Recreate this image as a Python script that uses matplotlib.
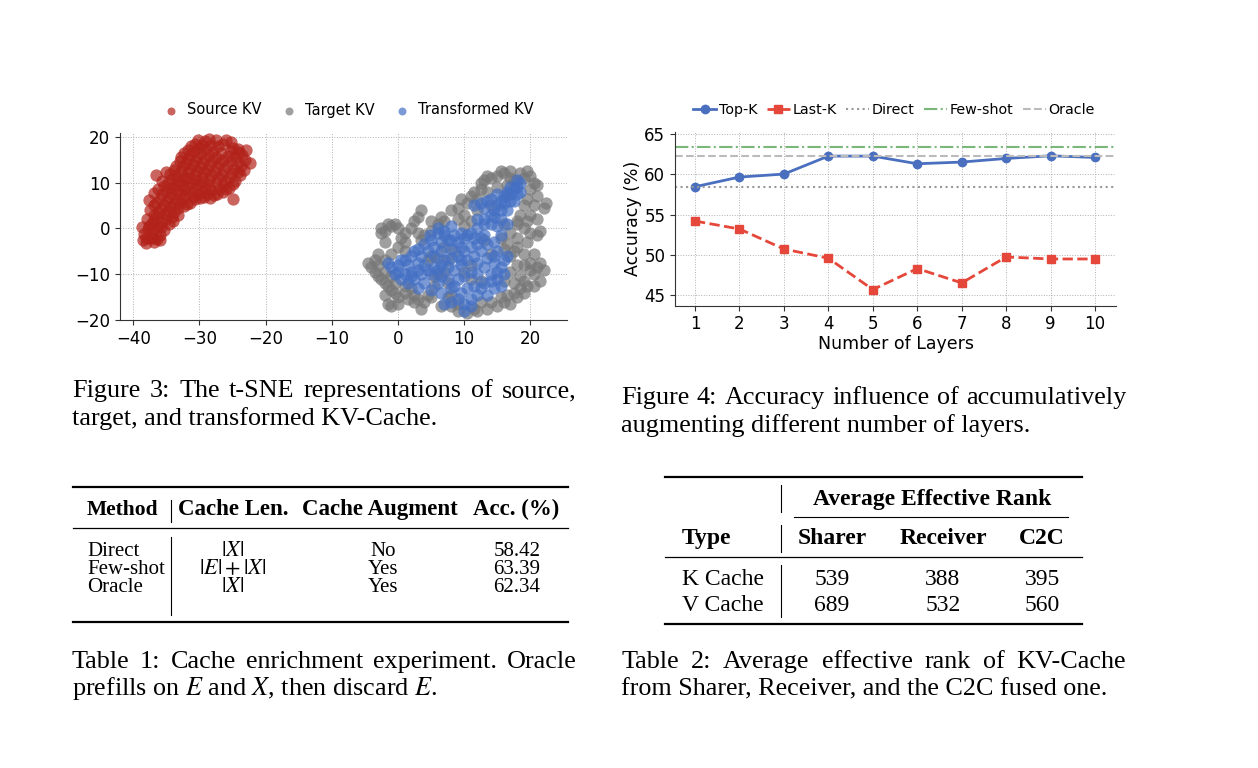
import matplotlib
matplotlib.use("Agg")
import matplotlib.pyplot as plt
from matplotlib.lines import Line2D

plt.rcParams.update({"font.size": 12, "mathtext.fontset": "stix"})

W, H = 1258, 768
SERIF = "Liberation Serif"

# --- Figure 3: t-SNE points ---
src_x = [-38.6, -38.1, -37.4, -38.3, -36.9, -36.4, -37.2, -35.9, -38.7, -37.6, -36.3, -35.4,
         -37.9, -36.8, -35.7, -34.6, -37.4, -36.3, -35.2, -34.1, -33.3,
         -37.6, -36.5, -35.4, -34.4, -33.2, -32.4,
         -36.8, -35.7, -34.6, -33.6, -32.5, -31.4, -30.6,
         -36.5, -35.3, -34.3, -33.4, -32.3, -31.3, -30.2, -29.3, -28.4,
         -35.0, -34.2, -33.1, -32.2, -31.1, -30.1, -29.2, -28.2, -27.3, -26.4,
         -33.8, -32.8, -31.8, -30.7, -29.6, -28.6, -27.5, -26.5, -25.5, -24.9,
         -33.0, -32.1, -31.0, -29.9, -28.8, -27.7, -26.6, -25.6, -24.6, -23.8,
         -32.4, -31.4, -30.3, -29.2, -28.1, -27.0, -25.9, -24.8, -23.7, -22.4,
         -31.2, -30.1, -29.0, -27.9, -26.8, -25.7, -24.6, -23.5,
         -30.2, -29.1, -27.5, -26.4, -25.2, -24.2, -28.3,
         -38.0, -37.0, -36.0, -37.8, -36.8, -35.8, -37.2, -36.2, -35.0, -34.0,
         -36.9, -35.8, -34.8, -33.8, -36.9, -35.9, -34.9, -33.9, -32.9, -31.9,
         -36.2, -35.1, -34.1, -33.0, -32.0, -31.0, -29.9,
         -35.6, -34.7, -33.7, -32.7, -31.7, -30.7, -29.7, -28.8, -27.8,
         -34.5, -33.5, -32.5, -31.5, -30.5, -29.5, -28.5, -27.0, -26.0, -25.0,
         -33.5, -32.5, -31.4, -30.3, -29.3, -28.2, -27.2, -26.1, -25.1, -24.2, -23.2,
         -32.8, -31.7, -30.7, -29.6, -28.5, -27.4, -26.3, -25.3, -24.2, -23.1,
         -31.8, -30.8, -29.7, -28.6, -27.5, -26.4, -25.2, -24.0,
         -30.7, -29.6, -28.6, -27.2, -26.0, -25.0, -23.0]
src_y = [-2.6, -3.1, -2.2, -1.2, -3.0, -2.3, -0.8, -1.4, 0.3, 0.6, 0.2, -0.3,
         2.1, 1.8, 1.4, 0.9, 4.0, 3.6, 3.1, 2.4, 2.9,
         6.2, 5.6, 5.2, 4.6, 4.4, 4.9,
         7.8, 7.4, 6.9, 6.4, 6.7, 5.6, 6.4,
         11.6, 9.2, 8.8, 8.4, 8.6, 7.9, 7.6, 6.9, 6.6,
         12.4, 10.8, 10.4, 10.7, 9.9, 9.6, 8.9, 8.4, 7.4, 7.9,
         12.8, 12.5, 12.2, 11.7, 11.3, 10.6, 9.8, 9.5, 8.8, 6.5,
         14.8, 14.3, 13.8, 13.4, 12.8, 12.2, 11.6, 11.0, 10.4, 11.6,
         16.4, 16.0, 15.6, 15.2, 14.6, 14.2, 13.6, 13.0, 13.7, 14.2,
         18.0, 17.6, 17.4, 16.8, 16.4, 15.8, 15.6, 15.9,
         19.2, 19.0, 19.2, 18.3, 18.8, 17.3, 18.1,
         -2.0, -2.0, -2.6, -0.2, 0.0, 0.4, 1.2, 2.5, 2.0, 1.5,
         3.0, 4.2, 3.8, 3.5, 5.0, 6.4, 5.9, 5.4, 5.6, 5.3,
         8.6, 8.2, 7.6, 7.5, 7.3, 6.8, 6.6,
         10.4, 9.8, 9.4, 9.5, 9.0, 8.7, 8.0, 7.6, 7.3,
         11.8, 11.4, 11.3, 11.0, 10.6, 10.1, 9.4, 8.6, 8.5, 9.6,
         13.6, 13.5, 13.0, 12.6, 12.2, 11.6, 11.0, 10.4, 12.0, 12.4, 12.8,
         15.6, 15.1, 14.7, 14.3, 13.8, 13.3, 12.8, 14.6, 14.4, 14.9,
         17.1, 16.8, 16.4, 16.0, 15.6, 15.0, 16.8, 16.6,
         18.5, 18.2, 19.5, 18.0, 19.3, 17.6, 17.0]

tgt_x = [-4.5, -3.5, -3.0, -2.5, -2.0, -1.0, -0.5, -2.0, -2.5, -1.5, -1.5, -1.0, -1.0, 0.0, 0.5, 1.0,
         2.5, 3.5, 3.0, 4.0, 2.5, 2.5, 3.5, 5.0, 5.5, 6.0, 6.0, 7.0, 8.0, 9.5, 9.0, 10.0, 11.0,
         11.5, 12.5, 13.0, 14.0, 15.0, 16.0, 17.0, 18.5, 19.5, 20.0, 20.5, 20.0, 19.5, 19.0, 18.5,
         18.0, 19.0, 20.0, 21.0, 22.0, 22.3, 21.0, 17.0, 16.5, 18.0, 19.0, 20.0, 21.0, 20.5, 21.5,
         19.5, 19.0, 18.0, 17.0, 16.0, 15.0, 13.5, 12.5, 11.5, 9.0, 8.0, 7.5, 11.0, 12.5, 16.0,
         17.0, 17.5, 17.0, 18.0, 15.5, 16.0, 8.0, 4.0, 1.0, 0.0, -0.5, 5.0, 6.0, 7.5, 4.5, 7.0,
         8.5, 3.5, 11.0, 13.0, 14.0, 10.0, 1.0, -1.0, -3.0, -2.0, 12.0, 13.5, 15.0, 16.5, 17.5,
         14.0, 12.0,
         -3.5, -4.0, -3.0, -2.0, -2.0, -1.0, -2.5, -1.5, 0.0, 1.0, 2.0, 3.0, 5.0, 5.0, 6.5, 9.0,
         10.5, 10.0, 11.0, 12.5, 13.5, 15.5, 17.0, 19.0, 21.0, 21.0, 20.5, 20.0, 19.5, 21.5, 18.0,
         19.5, 20.5, 21.5, 22.0, 20.0, 19.0, 18.5, 19.0, 20.5, 18.5, 17.5, 16.5, 15.5, 14.0, 12.0,
         10.5, 9.0, 7.5, 6.5, 5.5, 4.5, 3.0, 2.0, 1.0, -0.5, 0.0, -2.0, 1.5, 7.0, 16.0, 17.5,
         18.0, 16.5]
tgt_y = [-7.5, -9.5, -5.5, 0.0, -0.5, 0.5, 1.0, -3.0, -11.0, -12.5, -16.5, -17.0, -13.5, -4.0, -2.0, -5.0,
         1.5, 4.0, -1.0, -1.5, -14.5, -16.0, -17.5, -15.0, -10.5, -10.0, 1.0, 1.5, 4.0, 6.5, 2.0, 3.0, 1.5,
         8.0, 8.5, 10.5, 11.0, 11.5, 12.0, 12.5, 12.0, 12.5, 11.5, 10.0, 8.5, 6.5, 5.0, 3.0,
         1.5, 0.0, -1.0, -1.5, 4.5, 5.5, 2.0, -1.0, -3.5, -4.0, -5.5, -7.5, -8.5, -10.0, -11.5,
         -12.5, -14.0, -15.0, -16.5, -16.0, -17.0, -17.5, -16.0, -17.5, -18.0, -17.0, -12.0, -11.0, -11.5, -11.5,
         -9.5, -12.0, -6.0, -8.0, -2.0, 1.0, -14.5, -16.0, -14.0, -15.0, -12.0, -6.0, -6.5, -7.0, -7.0, -4.0,
         -5.0, -2.5, -8.0, -2.5, -5.5, -9.5, -3.0, -5.5, -8.0, -7.0, 4.0, 8.0, 9.0, 9.5, 10.5,
         5.0, 6.5,
         -7.0, -8.5, -10.5, -9.5, -12.0, -10.5, -1.0, 1.0, 0.0, -1.0, 0.0, 2.5, 1.5, -0.5, 2.5, 4.5,
         5.5, 0.5, 7.0, 10.0, 11.5, 12.5, 11.0, 11.0, 9.5, 7.0, 5.0, 3.0, 1.5, -0.5, -2.0,
         -3.0, -5.5, -7.5, -9.0, -9.0, -8.0, -10.5, -11.5, -12.5, -13.0, -14.0, -14.5, -15.0, -16.0, -18.0,
         -18.5, -16.5, -15.0, -17.0, -12.5, -14.5, -15.5, -13.0, -12.5, -14.0, -16.5, -14.5, -15.5, -9.5, -4.5, -5.0,
         1.0, 7.5]

trf_x = [18.5, 18.0, 17.5, 17.0, 16.5, 16.0, 15.5, 15.0, 14.5, 14.0, 13.5, 12.5, 13.0, 14.0, 15.0,
         15.5, 16.5, 17.5, 18.0, 12.0, 11.0, 10.0, 13.0, 14.5, 12.0,
         9.0, 8.0, 7.0, 6.0, 5.0, 4.0, 3.0, 2.0, 1.0, 0.0, -1.0, -0.5, 0.5, 1.5, 2.5, 3.5, 4.5,
         5.5, 6.5, 7.5, 8.5, 9.5, 10.5, 11.5, 12.5, 13.5, 14.5, 15.5, 16.0, 15.0, 10.0, 9.0, 8.0,
         6.5, 5.5, 3.0, 2.0,
         6.0, 6.5, 7.0, 8.0, 9.0, 9.5, 10.0, 10.0, 11.0, 11.5, 12.0, 12.5, 13.5, 14.5, 15.0,
         14.0, 13.0, 4.0, 3.0, 5.0,
         -1.5, 0.5, 1.5, 0.0, 1.0, 2.0, 3.0, 4.0, 3.5, 2.5, 4.5, 5.5, 6.5, 7.5, 8.5, 9.5,
         10.5, 11.5, 12.5, 13.5, 11.0, 9.5, 8.0, 7.0, 6.0, 5.0, 6.5, 7.5, 8.5, 9.0, 8.0,
         10.5, 11.0, 12.0, 13.0, 14.0, 15.5, 15.0, 16.0, 16.5, 14.5, 12.0, 11.0, 10.0, 9.5,
         13.0, 14.5, 15.5, 16.0, 17.0, 17.0, 18.0, 18.5, 16.5, 15.5, 12.0, 11.5, 13.0, 14.0,
         15.0, 7.0, 6.0, 8.0, 4.8]
trf_y = [10.0, 9.0, 8.5, 7.5, 8.0, 7.0, 6.0, 5.0, 4.0, 3.0, 6.0, 5.5, 2.0, 1.0, 0.5,
         2.0, 4.0, 6.0, 7.5, 0.0, -1.0, -2.0, -1.5, -3.0, -3.5,
         -3.0, -2.5, -1.5, -1.0, -2.5, -3.5, -4.5, -6.0, -7.0, -8.0, -8.5, -10.0, -11.0, -12.0, -11.0, -10.0, -9.0,
         -8.5, -8.0, -8.5, -9.0, -8.0, -7.0, -6.0, -5.0, -6.5, -7.5, -8.5, -7.0, -5.0, -5.0, -6.0, -4.5,
         -5.0, -6.0, -7.5, -9.5,
         -12.0, -14.0, -16.5, -13.0, -11.0, -14.0, -16.5, -18.0, -15.5, -12.5, -10.0, -13.0, -14.5, -13.0, -11.0,
         -10.0, -8.5, -12.0, -13.0, -13.5,
         -7.5, -7.0, -8.0, -9.5, -10.0, -10.5, -9.0, -8.0, -6.0, -5.0, -5.0, -4.0, -3.0, -2.5, -1.5, -1.0,
         -1.5, -2.0, -2.0, -3.5, -4.0, -4.0, -6.5, -7.0, -9.0, -10.0, -10.5, -11.0, -12.5, -15.5, -16.0,
         -13.0, -17.0, -14.5, -12.0, -11.5, -12.5, -9.5, -10.0, -6.0, -6.0, -7.5, -9.5, -10.5, -7.0,
         1.0, 2.5, 4.0, 5.5, 6.0, 9.0, 10.5, 8.0, 1.0, -1.5, 2.0, 5.0, 4.5, 6.5,
         7.5, -0.5, 0.0, 0.5, -1.5]

# --- Figure 4: accuracy vs number of augmented layers ---
layers = [1, 2, 3, 4, 5, 6, 7, 8, 9, 10]
top_k = [58.47, 59.67, 60.04, 62.27, 62.27, 61.32, 61.53, 61.98, 62.31, 62.10]
last_k = [54.21, 53.22, 50.74, 49.59, 45.70, 48.31, 46.53, 49.75, 49.50, 49.50]
direct_acc = 58.42
fewshot_acc = 63.39
oracle_acc = 62.34

# --- Table 1 ---
t1_methods = ["Direct", "Few-shot", "Oracle"]
t1_len = [r"$|X|$", r"$|E|+|X|$", r"$|X|$"]
t1_aug = ["No", "Yes", "Yes"]
t1_acc = [direct_acc, fewshot_acc, oracle_acc]

# --- Table 2 ---
t2_types = ["K Cache", "V Cache"]
t2_cols = ["Sharer", "Receiver", "C2C"]
t2_vals = [[539, 388, 395], [689, 532, 560]]

fig = plt.figure(figsize=(W / 100, H / 100), dpi=100)


def fx(px):
    return px / W


def fy(py):
    return 1 - py / H


def style_ax(ax):
    for s in ["top", "right"]:
        ax.spines[s].set_visible(False)
    for s in ["left", "bottom"]:
        ax.spines[s].set_color("#333333")
    ax.grid(True, ls=":", lw=0.7, color="#b0b0b0")
    ax.set_axisbelow(True)
    ax.tick_params(labelsize=12, color="#333333")


# t-SNE scatter
ax1 = fig.add_axes([fx(120), fy(320), fx(446.7), 187 / H])
ax1.scatter(src_x, src_y, s=78, c="#b2221a", alpha=0.7, lw=0, label="Source KV")
ax1.scatter(tgt_x, tgt_y, s=78, c="#777777", alpha=0.7, lw=0, label="Target KV")
ax1.scatter(trf_x, trf_y, s=78, c="#4470c4", alpha=0.7, lw=0, label="Transformed KV")
ax1.set_xlim(-42, 25.5)
ax1.set_ylim(-20, 20.8)
ax1.set_xticks([-40, -30, -20, -10, 0, 10, 20])
ax1.set_yticks([-20, -10, 0, 10, 20])
style_ax(ax1)
ax1.legend(loc="center", bbox_to_anchor=(fx(345), fy(110)), bbox_transform=fig.transFigure,
           ncol=3, frameon=False, fontsize=10.5, markerscale=0.65, handletextpad=0.1,
           columnspacing=0.9, scatterpoints=1)

# accuracy curves
ax2 = fig.add_axes([fx(675), fy(305.7), fx(441), 174 / H])
ax2.plot(layers, top_k, "-o", color="#4a6fbf", lw=2, ms=6, label="Top-K")
ax2.plot(layers, last_k, "--s", color="#e5473a", lw=2, ms=6, label="Last-K")
ax2.axhline(direct_acc, color="#999999", ls=":", lw=1.5, label="Direct")
ax2.axhline(fewshot_acc, color="#79b879", ls="-.", lw=1.5, label="Few-shot")
ax2.axhline(oracle_acc, color="#bbbbbb", ls="--", lw=1.5, label="Oracle")
ax2.set_xlim(0.55, 10.47)
ax2.set_ylim(43.7, 65.3)
ax2.set_xticks(layers)
ax2.set_yticks([45, 50, 55, 60, 65])
ax2.set_xlabel("Number of Layers", fontsize=12.5, labelpad=1)
ax2.set_ylabel("Accuracy (%)", fontsize=12.5, labelpad=2)
style_ax(ax2)
ax2.legend(loc="center", bbox_to_anchor=(fx(894), fy(110)), bbox_transform=fig.transFigure,
           ncol=5, frameon=False, fontsize=10.3, handlelength=1.6, handletextpad=0.2,
           columnspacing=0.65)

renderer = fig.canvas.get_renderer()


def justify(x0, x1, y, line, size):
    words = line.split(" ")
    ts = [fig.text(0, fy(y), w, family=SERIF, fontsize=size, va="baseline") for w in words]
    ws = [t.get_window_extent(renderer).width for t in ts]
    gap = (x1 - x0 - sum(ws)) / (len(ws) - 1)
    x = x0
    for t, w in zip(ts, ws):
        t.set_x(fx(x))
        x += w + gap


def plain(x, y, s, size, **kw):
    fig.text(fx(x), fy(y), s, family=SERIF, fontsize=size, va="baseline", **kw)


cap = 18.8
justify(72, 577, 397, "Figure 3: The t-SNE representations of source,", cap)
plain(72, 425, "target, and transformed KV-Cache.", cap)
justify(621, 1126, 404, "Figure 4: Accuracy influence of accumulatively", cap)
plain(621, 432, "augmenting different number of layers.", cap)
justify(72, 577, 668, "Table 1: Cache enrichment experiment. Oracle", cap)
plain(72, 695, r"prefills on $E$ and $X$, then discard $E$.", cap)
justify(621, 1126, 668, "Table 2: Average effective rank of KV-Cache", cap)
plain(621, 695, "from Sharer, Receiver, and the C2C fused one.", cap)


def hrule(x0, x1, y, lw):
    fig.add_artist(Line2D([fx(x0), fx(x1)], [fy(y), fy(y)], color="black", lw=lw))


def vrule(x, y0, y1):
    fig.add_artist(Line2D([fx(x), fx(x)], [fy(y0), fy(y1)], color="black", lw=0.8))


# Table 1
s1 = 15
hrule(73, 568, 487, 1.6)
hrule(73, 568, 528, 0.9)
hrule(73, 568, 622, 1.6)
vrule(171, 500, 522)
vrule(171, 537, 615)
plain(87, 515, "Method", 15.5, weight="bold")
plain(178, 515, "Cache Len.", 16.5, weight="bold")
plain(302, 515, "Cache Augment", 16.5, weight="bold")
plain(473, 515, "Acc. (%)", 16.5, weight="bold")
for i, yb in enumerate([556, 574, 591.7]):
    plain(87, yb, t1_methods[i], s1)
    plain(233, yb, t1_len[i], s1 + 1, ha="center")
    plain(383, yb, t1_aug[i], s1, ha="center")
    plain(517, yb, f"{t1_acc[i]:.2f}", s1, ha="center")

# Table 2
s2 = 17
col_x = [832, 943, 1042]
hrule(665, 1082, 476.7, 1.6)
hrule(794, 1068, 517.3, 0.8)
hrule(665, 1082, 557.3, 0.9)
hrule(665, 1082, 624, 1.6)
vrule(781, 485, 512)
vrule(781, 525, 552)
vrule(781, 565, 617)
plain(932, 505, "Average Effective Rank", s2, weight="bold", ha="center")
plain(682, 544, "Type", s2, weight="bold")
for cx, name in zip(col_x, t2_cols):
    plain(cx, 544, name, s2, weight="bold", ha="center")
for yb, name, row in zip([585, 610.7], t2_types, t2_vals):
    plain(682, yb, name, s2)
    for cx, v in zip(col_x, row):
        plain(cx, yb, str(v), s2, ha="center")

fig.savefig("out.png", dpi=100)
